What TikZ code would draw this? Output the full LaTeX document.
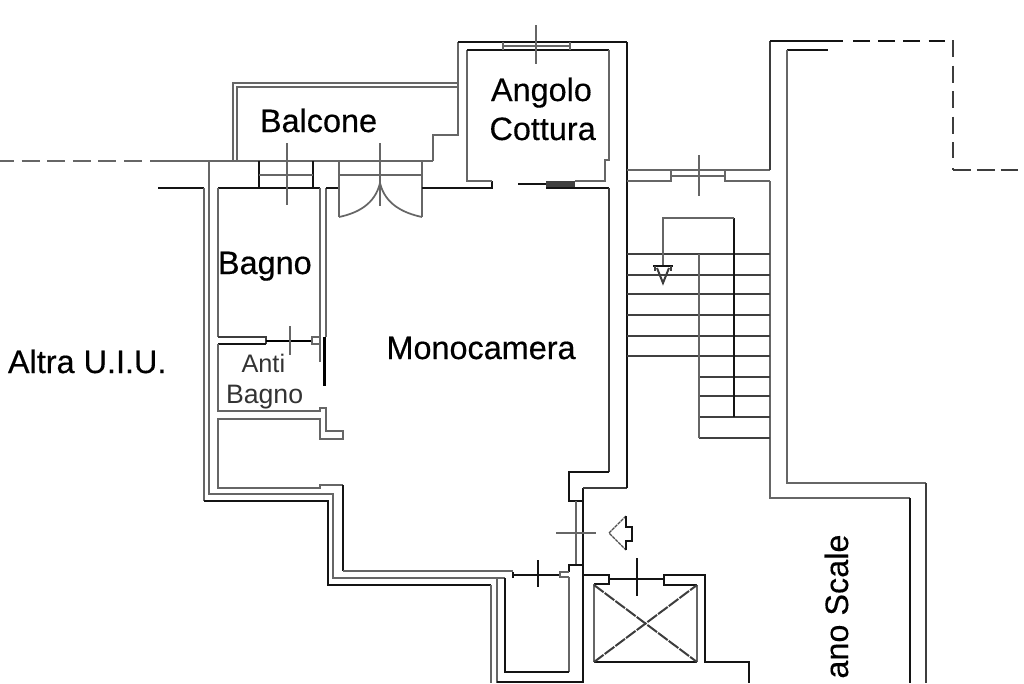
\documentclass[tikz,border=0pt]{standalone}
\usepackage{fontspec}
\setmainfont{Liberation Sans}
\newfontfamily\heavyfont[FakeBold=0.5]{Liberation Sans}
\newfontfamily\midfont[FakeBold=0.25]{Liberation Sans}
\tikzset{every picture/.style={line width=0.75pt}}
\tikzset{wallthin/.style={line width=1.3pt,color=black!60,line join=miter},
  wallthick/.style={line width=2pt,color=black!92,line join=miter},
  wallmid/.style={line width=1.5pt,color=black!76,line join=miter},
  crossline/.style={line width=1.1pt,color=black!60},
  biglabel/.style={inner sep=0pt,font=\fontsize{24.3}{28}\midfont,color=black},
  heavylabel/.style={inner sep=0pt,font=\fontsize{24.3}{28}\heavyfont,color=black},
  smalllabel/.style={inner sep=0pt,font=\fontsize{20}{24}\selectfont,color=black!80}}

\begin{document}
\begin{tikzpicture}[x=0.75pt,y=0.75pt,yscale=-1,xscale=1]
\useasboundingbox (0,0) rectangle (1024,683);

%Dashed boundary
\draw [wallthin,dash pattern=on 13.5pt off 5.7pt,dash phase=3pt] (0,161) -- (149,161) ;
\draw [wallthin] (150,161) -- (433,161) ;
\draw [wallthick,dash pattern=on 12.4pt off 6.5pt] (853,41) -- (947,41) ;
\draw [wallmid,dash pattern=on 12.75pt off 6.4pt] (953,40) -- (953,158) ;
\draw [wallmid] (953,168) -- (953,170) ;
\draw [wallmid,dash pattern=on 13.3pt off 4.6pt] (953,170) -- (1021,170) ;

%Balcone
\draw [wallthin] (233,161) -- (233,83) -- (458,83) ;
\draw [wallthin] (237,161) -- (237,87) -- (458,87) ;
\draw [wallthin] (458,42) -- (458,135) -- (433,135) -- (433,161) ;

%Outer walls left side
\draw [wallthick] (158,188) -- (204,188) ;
\draw [wallthin] (204,188) -- (204,501) ;
\draw [wallthick] (204,501) -- (328,501) -- (328,585) -- (491,585) ;
\draw [wallthin] (491,585) -- (491,683) ;
\draw [wallthin] (209,161) -- (209,494) -- (333,494) -- (333,578) -- (505,578) ;
\draw [wallthin] (497,578) -- (497,683) ;
\draw [wallthick] (497,682) -- (583,682) -- (583,488) ;
\draw [wallmid] (583,488) -- (627,488) ;
\draw [wallthick] (627,488) -- (627,42) ;

%Bagno
\draw [wallthick] (218,188) -- (320,188) ;
\draw [wallthin] (218,188) -- (218,337) ;
\draw [wallthin] (320,188) -- (320,362) ;
\draw [wallthin] (326,188) -- (326,337) ;
\draw [wallthick] (326,188) -- (339,188) ;
\draw [wallmid] (218,337) -- (266,337) -- (266,344) ;
\draw [wallthick] (266,344) -- (218,344) ;
\draw [wallthin] (218,344) -- (218,411) -- (320,411) -- (320,408) -- (326,408) -- (326,431) -- (343,431) -- (343,439) -- (320,439) -- (320,419) -- (218,419) -- (218,488) -- (320,488) -- (320,485) -- (343,485) ;
\draw [wallthick] (343,485) -- (343,571) ;
\draw [wallthin] (343,571) -- (513,571) ;
\draw [line width=1.1pt] (266,341) -- (312,341) ;
\draw [wallthin] (312,337) -- (320,337) -- (320,344) -- (312,344) -- cycle ;
\draw [line width=2.4pt] (324.5,337) -- (324.5,386) ;
\draw [crossline] (290,326) -- (290,355) ;

%Bagno window
\draw [wallthick] (259,161) -- (259,188) ;
\draw [wallthick] (313,161) -- (313,188) ;
\draw [wallthin] (259,175) -- (313,175) ;
\draw [crossline] (287,143) -- (287,205) ;

%French door
\draw [wallthin] (339,161) -- (339,217) ;
\draw [wallthin] (422,161) -- (422,217) ;
\draw [wallthin] (339,175) -- (422,175) ;
\draw [crossline] (380,143) -- (380,206) ;
\draw [wallthin] (339,217) .. controls (358,213) and (375,204) .. (380,183) ;
\draw [wallthin] (422,217) .. controls (403,213) and (385,204) .. (380,183) ;
\draw [wallthick] (422,188) -- (492,188) -- (492,181) ;

%Angolo Cottura
\draw [wallthick] (458,42) -- (627,42) ;
\draw [wallthin] (467,50) -- (467,181) -- (492,181) ;
\draw [wallthick] (467,50) -- (609,50) ;
\draw [wallthin] (609,50) -- (609,160) -- (605,160) -- (605,181) -- (575,181) ;
\draw [wallthick] (518,184) -- (546,184) ;
\fill [black!75] (546,181) rectangle (575,187) ;
\draw [wallthick] (546,188) -- (609,188) ;
\draw [wallmid] (609,188) -- (609,472) ;
\draw [wallthick] (609,472) -- (569,472) -- (569,501) -- (583,501) ;
\draw [wallthin] (576,501) -- (576,565) ;

%Top window
\draw [wallthin] (503,42) -- (503,50) ;
\draw [wallthin] (570,42) -- (570,50) ;
\draw [wallthin] (503,46) -- (570,46) ;
\draw [crossline] (536,25) -- (536,64) ;

%Stair landing wall and window
\draw [wallthin] (627,170) -- (671,170) -- (671,181) -- (627,181) ;
\draw [wallthin] (671,170) -- (725,170) ;
\draw [wallthin] (671,176) -- (725,176) ;
\draw [wallthin] (770,170) -- (725,170) -- (725,181) -- (770,181) ;
\draw [crossline] (699,155) -- (699,196) ;
\draw [wallmid] (770,170) -- (770,41) ;
\draw [wallthick] (770,41) -- (843,41) ;
\draw [wallthin] (770,181) -- (770,498) -- (910,498) ;
\draw [wallthick] (910,498) -- (910,683) ;
\draw [wallthick] (787,50) -- (828,50) ;
\draw [wallthin] (787,50) -- (787,483) -- (926,483) ;
\draw [wallmid] (926,483) -- (926,683) ;

%Stair steps
\foreach \stepy/\stepw in {254/1pt,275/1.8pt,294/1.2pt,315/1.8pt,336/1.2pt,356/1.2pt}
  \draw [color=black!75,line width=\stepw] (627,\stepy) -- (770,\stepy) ;
\foreach \stepy/\stepw in {377/1.2pt,396/1.2pt,417/1.8pt,438/1.8pt}
  \draw [color=black!75,line width=\stepw] (699,\stepy) -- (770,\stepy) ;
\draw [wallthin] (699,254) -- (699,438) ;
\draw [wallthick] (734,218) -- (734,417) ;
\draw [wallthin] (663,266) -- (663,218) -- (734,218) ;

%Level mark
\draw [wallthick] (653,266) -- (673,266) ;
\draw [wallmid] (655,266) -- (655,271) ;
\draw [wallmid] (671,266) -- (671,271) ;
\draw [wallmid] (657,268) -- (663,283) -- (669,268) ;

%Bottom rooms
\draw [wallthick] (513,578) -- (513,572) ;
\draw [wallthick] (513,575) -- (560,575) ;
\draw [wallthick] (583,565) -- (569,565) -- (569,572) ;
\draw [wallthin] (569,572) -- (560,572) -- (560,577) -- (569,577) ;
\draw [wallthin] (569,577) -- (569,672) ;
\draw [wallthick] (569,672) -- (505,672) -- (505,578) ;
\draw [wallthick] (538,560) -- (538,587) ;

%Door above lift
\draw [crossline] (556,533) -- (596,533) ;
\draw [line width=1pt,dash pattern=on 2.5pt off 0.6pt,color=black!70] (626,516) -- (609,533) -- (626,550) ;
\draw [wallthick] (626,516) -- (626,527) -- (632,527) -- (632,541) -- (626,541) -- (626,550) ;

%Lift
\draw [wallthick] (584,575) -- (609,575) -- (609,584) -- (594,584) ;
\draw [wallthin] (594,584) -- (594,662) ;
\draw [wallthick] (594,662) -- (697,662) ;
\draw [wallthin] (697,662) -- (697,585) ;
\draw [wallthick] (697,585) -- (664,585) -- (664,575) -- (705,575) -- (705,662) -- (749,662) -- (749,683) ;
\draw [wallthick] (609,579) -- (664,579) ;
\draw [wallthick] (637,558) -- (637,596) ;
\draw [wallmid,dash pattern=on 9pt off 1pt] (594,585) -- (697,662) ;
\draw [wallmid,dash pattern=on 9pt off 1pt] (594,662) -- (697,585) ;

% Text Node
\node (balcone) [anchor=base west,heavylabel] at (259.5,132) {Balcone};
\node (angolo) [anchor=base west,biglabel] at (490.5,101) {Angolo};
\node (cottura) [anchor=base west,biglabel] at (489,140) {Cottura};
\node (bagno) [anchor=base west,heavylabel] at (217.5,274) {Bagno};
\node (monocamera) [anchor=base west,heavylabel] at (386,359) {Monocamera};
\node (altra) [anchor=base west,biglabel] at (7.5,373) {{\heavyfont Altra} U.I.U.};
\node (anti) [anchor=base west,smalllabel,font=\fontsize{19}{24}\selectfont] at (241,372.5) {Anti};
\node (antibagno) [anchor=base west,smalllabel] at (225.5,403) {Bagno};
\node (scale) [anchor=base east,biglabel,rotate=90] at (848,534) {ano Scale};

\end{tikzpicture}
\end{document}
